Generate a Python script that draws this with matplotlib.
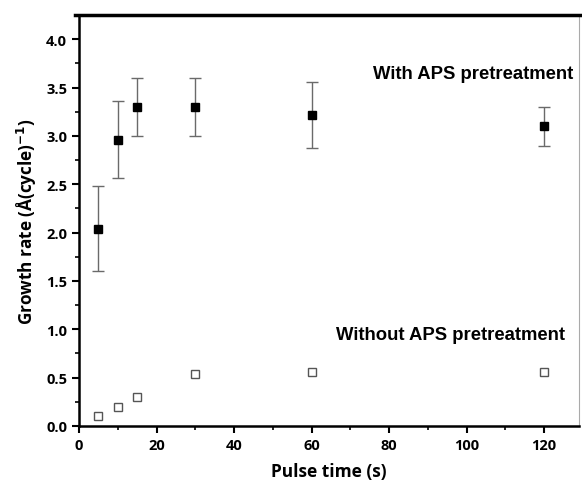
import matplotlib
matplotlib.use("Agg")
import matplotlib.pyplot as plt
from matplotlib.ticker import MultipleLocator
from matplotlib.lines import Line2D

pulse_time = [5, 10, 15, 30, 60, 120]
with_aps = [2.04, 2.96, 3.30, 3.30, 3.22, 3.10]
with_err_low = [0.44, 0.40, 0.30, 0.30, 0.35, 0.20]
with_err_high = [0.44, 0.40, 0.30, 0.30, 0.34, 0.20]
without_aps = [0.10, 0.20, 0.30, 0.54, 0.56, 0.56]

fig = plt.figure(figsize=(5.82, 4.81), dpi=100)
ax = fig.add_axes([79/582, 1-427/481, (579-79)/582, (427-16)/481])

ax.errorbar(pulse_time, with_aps, yerr=[with_err_low, with_err_high], fmt='s',
            color='black', ms=6, ecolor='#6a6a6a', elinewidth=1, capsize=4,
            capthick=1, zorder=3)
ax.plot(pulse_time, without_aps, 's', ms=6, mfc='white', mec='#555555',
        mew=1, zorder=3)

ax.set_xlim(0, 129)
ax.set_ylim(0, 4.25)
ax.xaxis.set_major_locator(MultipleLocator(20))
ax.xaxis.set_minor_locator(MultipleLocator(10))
ax.yaxis.set_major_locator(MultipleLocator(0.5))
ax.yaxis.set_minor_locator(MultipleLocator(0.25))
ax.yaxis.set_major_formatter(matplotlib.ticker.FormatStrFormatter('%.1f'))

for s in ['left', 'bottom']:
    ax.spines[s].set_linewidth(1.8)
ax.spines['top'].set_visible(False)
ax.spines['right'].set_linewidth(0.8)
ax.spines['right'].set_color('#aaaaaa')
top_y = 1 - 16/481
fig.add_artist(Line2D([75/582, 1.0], [top_y, top_y], color='black', lw=2.5,
                      transform=fig.transFigure))

ax.tick_params(which='major', direction='out', length=5, width=1.5,
               labelsize=10.5, top=False, right=False)
ax.tick_params(which='minor', direction='out', length=3, width=1.2,
               top=False, right=False)
for lbl in ax.get_xticklabels() + ax.get_yticklabels():
    lbl.set_fontfamily('Open Sans')
    lbl.set_fontweight('bold')

ax.set_xlabel('Pulse time (s)', fontsize=12.5, fontweight='bold',
              fontfamily='Open Sans', labelpad=7)
ax.set_ylabel('Growth rate (Å(cycle)$^{\\mathbf{-1}}$)', fontsize=12.3,
              fontweight='bold', fontfamily='Open Sans', labelpad=5)

ax.text(127.5, 3.64, 'With APS pretreatment', ha='right', va='center',
        fontsize=13.3, fontweight='bold', fontfamily='Liberation Sans')
ax.text(125.5, 0.95, 'Without APS pretreatment', ha='right', va='center',
        fontsize=13.3, fontweight='bold', fontfamily='Liberation Sans')

fig.savefig('out.png', dpi=100)
